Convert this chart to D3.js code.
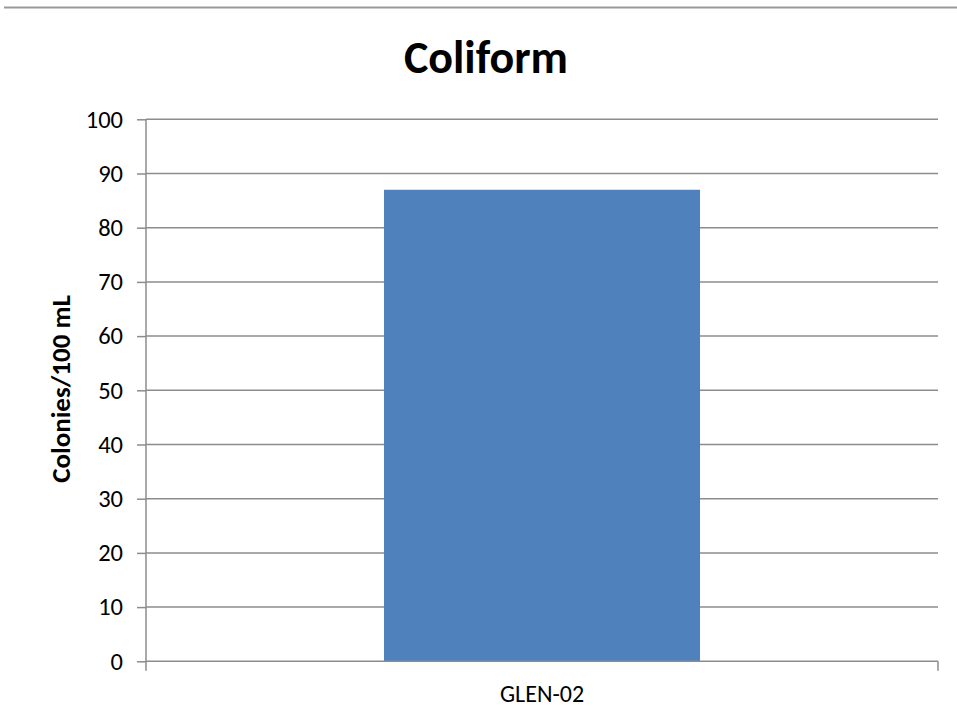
<!DOCTYPE html>
<html><head><meta charset="utf-8">
<script src="https://cdn.jsdelivr.net/npm/d3@7/dist/d3.min.js"></script>
<style>body{margin:0;background:#fff}svg{display:block}</style>
</head><body><svg id="c" width="957" height="724"></svg>
<script>
const categories = ["GLEN-02"];
const values = [87];
const yTicks = [0,10,20,30,40,50,60,70,80,90,100];
const title = "Coliform";
const yLabel = "Colonies/100 mL";

(function(){
const svg = d3.select("#c");
const font = "Carlito, 'Open Sans', 'Liberation Sans', sans-serif";
const pL = 146, pR = 938, pT = 119.3, pB = 661.3;
const x = d3.scaleBand().domain(categories).range([pL, pR]).paddingInner(0).paddingOuter(0.753);
const y = d3.scaleLinear().domain([0, 100]).range([pB, pT]);

svg.append("line").attr("x1",4).attr("x2",957).attr("y1",7.5).attr("y2",7.5)
  .attr("stroke","#999").attr("stroke-width",2);

svg.append("g").selectAll("line").data(yTicks.filter(d=>d>0)).join("line")
  .attr("x1",pL).attr("x2",pR).attr("y1",d=>y(d)).attr("y2",d=>y(d))
  .attr("stroke","#8c8c8c").attr("stroke-width",1.5);

svg.append("g").selectAll("rect").data(categories).join("rect")
  .attr("x",d=>x(d)).attr("width",x.bandwidth())
  .attr("y",(d,i)=>y(values[i])).attr("height",(d,i)=>y(0)-y(values[i]))
  .attr("fill","#4f81bd");

const ya = svg.append("g").attr("transform",`translate(${pL},0)`)
  .call(d3.axisLeft(y).tickValues(yTicks).tickSize(9).tickPadding(14));
ya.select(".domain").attr("stroke","#8c8c8c").attr("stroke-width",1.5).attr("d",`M0,${pT}V${pB}`);
ya.selectAll(".tick line").attr("stroke","#8c8c8c").attr("stroke-width",1.5);
ya.selectAll(".tick text").attr("font-family",font).attr("font-size",24.5).attr("fill","#000");

const xa = svg.append("g").attr("transform",`translate(0,${pB})`)
  .call(d3.axisBottom(x).tickSize(0).tickPadding(24));
xa.select(".domain").attr("stroke","#8c8c8c").attr("stroke-width",1.5).attr("d",`M${pL},0H${pR}`);
xa.selectAll(".tick text").attr("font-family",font).attr("font-size",24).attr("fill","#000");
svg.append("g").selectAll("line").data([pL,pR]).join("line")
  .attr("x1",d=>d).attr("x2",d=>d).attr("y1",pB).attr("y2",pB+9.5)
  .attr("stroke","#8c8c8c").attr("stroke-width",1.5);

svg.append("text").attr("x",486).attr("y",73).attr("text-anchor","middle")
  .attr("font-family",font).attr("font-weight","bold").attr("font-size",46).text(title);

svg.append("text").attr("transform","translate(70,389) rotate(-90)").attr("text-anchor","middle")
  .attr("font-family",font).attr("font-weight","bold").attr("font-size",27).text(yLabel);
})();
</script></body></html>
